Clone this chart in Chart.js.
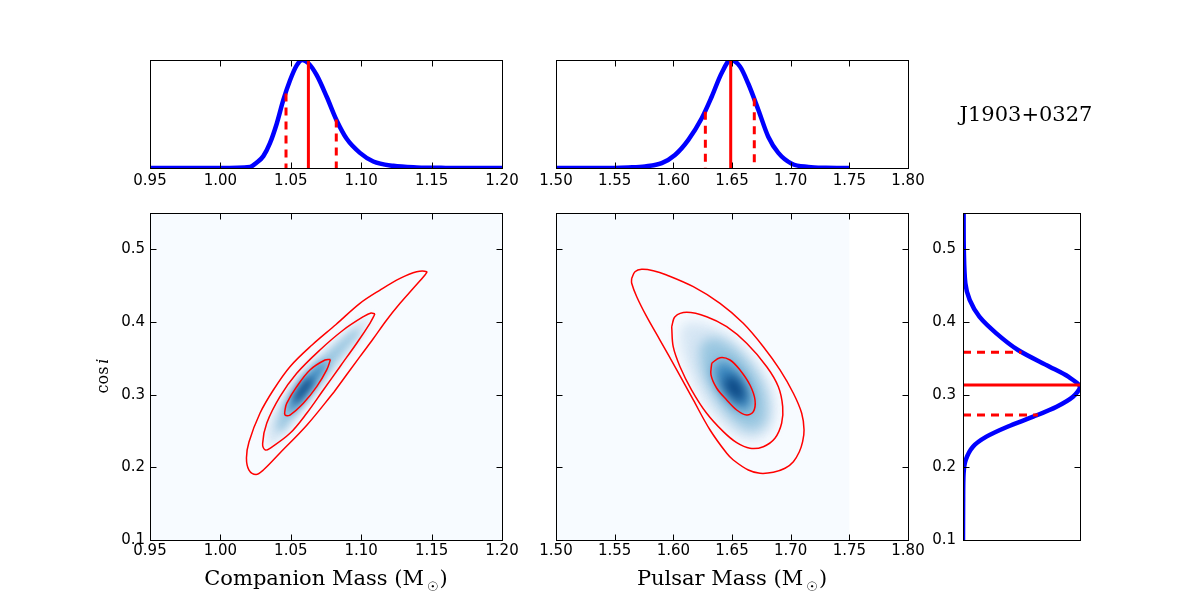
<!DOCTYPE html>
<html><head><meta charset="utf-8">
<script src="https://cdn.jsdelivr.net/npm/chart.js@4.4.1/dist/chart.umd.min.js"></script>
<style>
html,body{margin:0;padding:0;background:#fff;}
#wrap{position:relative;width:1200px;height:600px;background:#fff;}
#wrap canvas{position:absolute;left:0;top:0;}
</style></head><body><div id="wrap">
<canvas id="shadeL" width="1200" height="600"></canvas>
<canvas id="shadeM" width="1200" height="600"></canvas>
<canvas id="topL" width="1200" height="600"></canvas>
<canvas id="topM" width="1200" height="600"></canvas>
<canvas id="botL" width="1200" height="600"></canvas>
<canvas id="botM" width="1200" height="600"></canvas>
<canvas id="sideR" width="1200" height="600"></canvas>
</div>
<script>
// ---------- tick labels ----------
const compMassTicks = [0.95, 1.00, 1.05, 1.10, 1.15, 1.20];
const pulsarMassTicks = [1.50, 1.55, 1.60, 1.65, 1.70, 1.75, 1.80];
const cosiTicks = [0.1, 0.2, 0.3, 0.4, 0.5];

// ---------- companion-mass marginal ----------
const compMassX   = [0.95, 1.00, 1.0210, 1.0258, 1.0305, 1.0352, 1.0400, 1.0447, 1.0494, 1.0542, 1.0582, 1.0625, 1.0684, 1.0755, 1.0826, 1.0897, 1.0991, 1.1086, 1.1228, 1.1394, 1.1600, 1.2000];
const compMassPdf = [0, 0, 0.01, 0.05, 0.11, 0.23, 0.41, 0.63, 0.81, 0.95, 1.00, 0.97, 0.86, 0.66, 0.44, 0.27, 0.14, 0.06, 0.02, 0.005, 0.001, 0];
const compMassMarks   = [1.0466, 1.0625, 1.0823];   // lower, median, upper
const compMassMarkTop = [0.69, 1.00, 0.45];

// ---------- pulsar-mass marginal ----------
const pulsarMassX   = [1.50, 1.55, 1.5617, 1.5759, 1.5901, 1.6014, 1.6128, 1.6242, 1.6327, 1.6412, 1.6489, 1.6568, 1.6639, 1.6724, 1.6809, 1.6895, 1.7009, 1.7150, 1.7300, 1.7500];
const pulsarMassPdf = [0, 0.001, 0.005, 0.015, 0.045, 0.12, 0.26, 0.46, 0.66, 0.88, 1.00, 0.94, 0.78, 0.54, 0.29, 0.14, 0.04, 0.01, 0.002, 0];
const pulsarMassMarks   = [1.6273, 1.6489, 1.6690];
const pulsarMassMarkTop = [0.52, 1.00, 0.645];

// ---------- cos i marginal ----------
const cosiY   = [0.10, 0.15, 0.1918, 0.2101, 0.2284, 0.2422, 0.2559, 0.2697, 0.2835, 0.2972, 0.3110, 0.3247, 0.3385, 0.3615, 0.3844, 0.4073, 0.4303, 0.4533, 0.4991, 0.55];
const cosiPdf = [0, 0.001, 0.005, 0.023, 0.085, 0.20, 0.38, 0.60, 0.80, 0.94, 1.00, 0.90, 0.74, 0.47, 0.285, 0.14, 0.057, 0.02, 0.007, 0.005];
const cosiMarks    = [0.2720, 0.3133, 0.3583];
const cosiMarkLen  = [0.64, 1.00, 0.50];

// ---------- companion mass vs cos i contours ----------
const compOuter = [[1.0807,0.3037],[1.0615,0.2583],[1.0423,0.2197],[1.0305,0.1963],[1.0253,0.1902],[1.0203,0.1963],[1.0185,0.2129],[1.0203,0.2349],[1.0281,0.2744],[1.0376,0.3064],[1.0494,0.3385],[1.0651,0.3684],[1.0821,0.3966],[1.0991,0.4257],[1.1134,0.4440],[1.1276,0.4601],[1.1394,0.4692],[1.1465,0.4692],[1.1453,0.4647],[1.1370,0.4464],[1.1276,0.4257],[1.1181,0.4028],[1.1084,0.3766],[1.0991,0.3523],[1.0807,0.3037]];
const compMid = [[1.1098,0.4110],[1.1062,0.3982],[1.0968,0.3707],[1.0849,0.3385],[1.0731,0.3064],[1.0613,0.2744],[1.0494,0.2468],[1.0352,0.2262],[1.0318,0.2240],[1.0300,0.2330],[1.0329,0.2606],[1.0423,0.2972],[1.0542,0.3294],[1.0707,0.3615],[1.0873,0.3890],[1.1015,0.4073],[1.1070,0.4124],[1.1098,0.4110]];
const compInner = [[1.0782,0.3484],[1.0755,0.3340],[1.0684,0.3110],[1.0589,0.2881],[1.0494,0.2720],[1.0459,0.2720],[1.0459,0.2789],[1.0471,0.2881],[1.0542,0.3110],[1.0636,0.3340],[1.0743,0.3477],[1.0782,0.3484]];
// density shading levels (light -> dark)
const compShade1 = [[1.0338,0.2321],[1.0338,0.2583],[1.0445,0.2954],[1.0565,0.3298],[1.0729,0.3573],[1.0885,0.3849],[1.1027,0.4055],[1.1062,0.4028],[1.0949,0.3684],[1.0828,0.3367],[1.0693,0.3037],[1.0580,0.2762],[1.0466,0.2486],[1.0366,0.2294],[1.0338,0.2321]];
const compShade2 = [[1.0395,0.2541],[1.0452,0.2858],[1.0551,0.3133],[1.0693,0.3450],[1.0864,0.3752],[1.0977,0.3917],[1.0991,0.3862],[1.0885,0.3615],[1.0743,0.3271],[1.0622,0.2954],[1.0509,0.2679],[1.0423,0.2486],[1.0395,0.2541]];
const compShade3 = [[1.0473,0.2789],[1.0530,0.3023],[1.0622,0.3271],[1.0729,0.3450],[1.0757,0.3422],[1.0679,0.3174],[1.0580,0.2927],[1.0494,0.2748],[1.0473,0.2789]];
const compShade4 = [[1.0516,0.2927],[1.0565,0.3092],[1.0636,0.3229],[1.0658,0.3188],[1.0601,0.3023],[1.0537,0.2885],[1.0516,0.2927]];

// ---------- pulsar mass vs cos i contours ----------
const pulsOuter = [[1.5645,0.4601],[1.5673,0.4692],[1.5730,0.4725],[1.5829,0.4706],[1.5943,0.4647],[1.6170,0.4486],[1.6398,0.4257],[1.6596,0.3982],[1.6767,0.3660],[1.6909,0.3340],[1.7023,0.3019],[1.7094,0.2744],[1.7114,0.2514],[1.7102,0.2353],[1.7074,0.2215],[1.7023,0.2078],[1.6952,0.1987],[1.6852,0.1932],[1.6739,0.1918],[1.6639,0.1963],[1.6511,0.2101],[1.6455,0.2193],[1.6313,0.2514],[1.6170,0.2927],[1.6029,0.3340],[1.5886,0.3752],[1.5773,0.4073],[1.5688,0.4348],[1.5645,0.4533],[1.5645,0.4601]];
const pulsMid = [[1.5986,0.3935],[1.6014,0.4073],[1.6114,0.4133],[1.6284,0.4073],[1.6455,0.3935],[1.6625,0.3707],[1.6796,0.3385],[1.6895,0.3110],[1.6932,0.2835],[1.6923,0.2606],[1.6866,0.2400],[1.6767,0.2284],[1.6653,0.2262],[1.6540,0.2339],[1.6426,0.2491],[1.6284,0.2744],[1.6156,0.3064],[1.6057,0.3385],[1.5999,0.3660],[1.5986,0.3935]];
const pulsInner = [[1.6327,0.3432],[1.6398,0.3509],[1.6483,0.3477],[1.6568,0.3340],[1.6653,0.3133],[1.6696,0.2927],[1.6682,0.2766],[1.6625,0.2720],[1.6540,0.2789],[1.6455,0.2927],[1.6370,0.3088],[1.6321,0.3271],[1.6327,0.3432]];
const pulsShade1 = [[1.6057,0.3849],[1.6082,0.3959],[1.6159,0.4000],[1.6313,0.3945],[1.6457,0.3821],[1.6602,0.3615],[1.6747,0.3340],[1.6832,0.3092],[1.6866,0.2858],[1.6858,0.2651],[1.6807,0.2486],[1.6722,0.2390],[1.6628,0.2376],[1.6534,0.2445],[1.6440,0.2569],[1.6321,0.2789],[1.6210,0.3064],[1.6125,0.3367],[1.6074,0.3615],[1.6057,0.3849]];
const pulsShade2 = [[1.6227,0.3684],[1.6330,0.3780],[1.6483,0.3684],[1.6636,0.3450],[1.6756,0.3133],[1.6798,0.2817],[1.6764,0.2583],[1.6653,0.2514],[1.6526,0.2624],[1.6398,0.2858],[1.6296,0.3133],[1.6236,0.3408],[1.6227,0.3684]];
const pulsShade3 = [[1.6355,0.3408],[1.6406,0.3463],[1.6483,0.3422],[1.6560,0.3298],[1.6628,0.3106],[1.6662,0.2927],[1.6645,0.2803],[1.6602,0.2775],[1.6534,0.2844],[1.6457,0.2968],[1.6389,0.3119],[1.6347,0.3271],[1.6355,0.3408]];
const pulsShade4 = [[1.6440,0.3229],[1.6509,0.3257],[1.6585,0.3119],[1.6611,0.2954],[1.6560,0.2899],[1.6483,0.3009],[1.6432,0.3119],[1.6440,0.3229]];

// heat-map extents along x
const compHeatExtent = [0.95, 1.20];
const pulsHeatExtent = [1.50, 1.75];

const shadeColors = ['#d6e6f4', '#98c6e0', '#3b89c1', '#08427f'];

// ---------- helpers ----------
const zip = (xs, ys) => xs.map((x, i) => ({x, y: ys[i]}));
const pairs = a => a.map(([x, y]) => ({x, y}));
const SANS = '"DejaVu Sans"';
const SERIF = '"DejaVu Serif"';

function lin(min, max, ticks, o) {
  return {
    type: 'linear', min, max,
    display: o.display !== false,
    grid: {display: false, drawTicks: false},
    border: {display: false},
    ticks: {display: o.labels !== false, color: '#000', font: {family: SANS, size: 15},
      padding: o.padding == null ? 3 : o.padding, autoSkip: false, maxRotation: 0, minRotation: 0,
      callback: v => Number(v).toFixed(o.dec || 1)},
    afterBuildTicks: s => { s.ticks = ticks.map(v => ({value: v})); },
    afterFit: s => { if (o.size != null) { if (s.isHorizontal()) s.height = o.size; else s.width = o.size; } }
  };
}
function lineDs(data, color, width, extra) {
  return Object.assign({data, showLine: true, borderColor: color, borderWidth: width,
    pointRadius: 0, pointHoverRadius: 0, fill: false, tension: 0}, extra || {});
}
function frame(cfg) {
  return {
    id: 'frame',
    afterDraw(chart) {
      const {ctx, chartArea: a, scales} = chart;
      const L = Math.round(a.left) + 0.5, R = Math.round(a.right) + 0.5, T = Math.round(a.top) + 0.5, B = Math.round(a.bottom) + 0.5;
      ctx.save();
      ctx.strokeStyle = '#000'; ctx.lineWidth = 1;
      ctx.beginPath();
      if (cfg.tx) for (const t of scales.x.ticks) {
        const p = Math.round(scales.x.getPixelForValue(t.value)) + 0.5;
        ctx.moveTo(p, B); ctx.lineTo(p, B - 6); ctx.moveTo(p, T); ctx.lineTo(p, T + 6);
      }
      if (cfg.ty) for (const t of scales.y.ticks) {
        const p = Math.round(scales.y.getPixelForValue(t.value)) + 0.5;
        ctx.moveTo(L, p); ctx.lineTo(L + 6, p); ctx.moveTo(R, p); ctx.lineTo(R - 6, p);
      }
      ctx.stroke();
      ctx.strokeRect(L, T, R - L, B - T);
      ctx.restore();
      if (cfg.draw) cfg.draw(ctx);
    }
  };
}
function shadePlugin(extent, blur) {
  return {
    id: 'shade',
    beforeDatasetsDraw(chart) {
      const {ctx, chartArea: a, scales} = chart;
      const x0 = scales.x.getPixelForValue(extent[0]), x1 = scales.x.getPixelForValue(extent[1]);
      ctx.save();
      ctx.fillStyle = '#f7fbff';
      ctx.fillRect(x0, a.top, x1 - x0, a.bottom - a.top);
      ctx.restore();
      ctx.save();
      ctx.filter = 'blur(' + blur + 'px)';
    },
    afterDatasetsDraw(chart) { chart.ctx.restore(); }
  };
}
function massLabel(ctx, text, cx, base) {
  ctx.save();
  ctx.fillStyle = '#000'; ctx.textAlign = 'left'; ctx.textBaseline = 'alphabetic';
  const big = '21px ' + SERIF, small = '13px ' + SANS;
  ctx.font = big; const w1 = ctx.measureText(text).width; const wp = ctx.measureText(')').width;
  ctx.font = small; const ws = ctx.measureText('\u2609').width;
  const gap = 3, total = w1 + gap + ws + 1 + wp;
  let x = cx - total / 2;
  ctx.font = big; ctx.fillText(text, x, base); x += w1 + gap;
  ctx.font = small; ctx.fillText('\u2609', x, base + 6); x += ws + 1;
  ctx.font = big; ctx.fillText(')', x, base);
  ctx.restore();
}
const base = {responsive: false, animation: false, devicePixelRatio: 1, events: [],
  plugins: {legend: {display: false}, tooltip: {enabled: false}}};
function opts(padding, scales) { return Object.assign({}, base, {layout: {padding}, scales}); }
const RED = '#ff0000', BLUE = '#0000ff';

function shadeDatasets(levels) {
  return levels.map((lv, i) => ({data: pairs(lv), showLine: true, fill: 'shape', backgroundColor: shadeColors[i],
    borderColor: 'rgba(0,0,0,0)', borderWidth: 0, pointRadius: 0, tension: 0.4, order: 10 - i}));
}

// ---------- shading charts (under) ----------
new Chart(document.getElementById('shadeL'), {
  type: 'scatter',
  data: {datasets: shadeDatasets([compShade1, compShade2, compShade3, compShade4])},
  options: opts({left: 150, top: 213, right: 698, bottom: 60}, {
    x: lin(0.95, 1.20, [], {display: false}), y: lin(0.1, 0.55, [], {display: false})}),
  plugins: [shadePlugin(compHeatExtent, 4)]
});
new Chart(document.getElementById('shadeM'), {
  type: 'scatter',
  data: {datasets: shadeDatasets([pulsShade1, pulsShade2, pulsShade3, pulsShade4])},
  options: opts({left: 556, top: 213, right: 292, bottom: 60}, {
    x: lin(1.50, 1.80, [], {display: false}), y: lin(0.1, 0.55, [], {display: false})}),
  plugins: [shadePlugin(pulsHeatExtent, 6)]
});

// ---------- top marginals ----------
function markDs(xs, tops, horizontal) {
  return xs.map((v, i) => lineDs(
    horizontal ? [{x: 0, y: v}, {x: tops[i], y: v}] : [{x: v, y: tops[i]}, {x: v, y: 0}],
    RED, 3, i === 1 ? {} : {borderDash: [8, 6], borderCapStyle: 'butt'}));
}
new Chart(document.getElementById('topL'), {
  type: 'scatter',
  data: {datasets: [...markDs(compMassMarks, compMassMarkTop, false),
    lineDs(zip(compMassX, compMassPdf), BLUE, 4.5, {cubicInterpolationMode: 'monotone'})]},
  options: opts({left: 150, top: 60, right: 698, bottom: 402}, {
    x: lin(0.95, 1.20, compMassTicks, {dec: 2, size: 30, padding: 4}),
    y: lin(0, 1, [], {display: false})}),
  plugins: [frame({tx: true})]
});
new Chart(document.getElementById('topM'), {
  type: 'scatter',
  data: {datasets: [...markDs(pulsarMassMarks, pulsarMassMarkTop, false),
    lineDs(zip(pulsarMassX, pulsarMassPdf), BLUE, 4.5, {cubicInterpolationMode: 'monotone'})]},
  options: opts({left: 556, top: 60, right: 292, bottom: 402}, {
    x: lin(1.50, 1.80, pulsarMassTicks, {dec: 2, size: 30, padding: 4}),
    y: lin(0, 1, [], {display: false})}),
  plugins: [frame({tx: true})]
});

// ---------- joint panels ----------
const contour = a => lineDs(pairs(a), RED, 1.5, {tension: 0.35});
new Chart(document.getElementById('botL'), {
  type: 'scatter',
  data: {datasets: [contour(compInner), contour(compMid), contour(compOuter)]},
  options: opts({left: 110, top: 213, right: 698, bottom: 30}, {
    x: lin(0.95, 1.20, compMassTicks, {dec: 2, size: 30, padding: 2}),
    y: lin(0.1, 0.55, cosiTicks, {dec: 1, size: 40, padding: 5})}),
  plugins: [frame({tx: true, ty: true, draw(ctx) {
    massLabel(ctx, 'Companion Mass (M', 326, 585);
    ctx.save();
    ctx.fillStyle = '#000'; ctx.textBaseline = 'alphabetic'; ctx.textAlign = 'left';
    ctx.translate(108, 376); ctx.rotate(-Math.PI / 2);
    ctx.font = '16px ' + SERIF; const wc = ctx.measureText('cos').width;
    ctx.font = 'italic 16px ' + SERIF; const wi = ctx.measureText('i').width;
    let x = -(wc + 3 + wi) / 2;
    ctx.font = '16px ' + SERIF; ctx.fillText('cos', x, 0);
    ctx.font = 'italic 16px ' + SERIF; ctx.fillText('i', x + wc + 3, 0);
    ctx.restore();
  }})]
});
new Chart(document.getElementById('botM'), {
  type: 'scatter',
  data: {datasets: [contour(pulsInner), contour(pulsMid), contour(pulsOuter)]},
  options: opts({left: 556, top: 213, right: 292, bottom: 30}, {
    x: lin(1.50, 1.80, pulsarMassTicks, {dec: 2, size: 30, padding: 2}),
    y: lin(0.1, 0.55, cosiTicks, {labels: false, size: 0})}),
  plugins: [frame({tx: true, ty: true, draw(ctx) { massLabel(ctx, 'Pulsar Mass (M', 732, 585); }})]
});

// ---------- side marginal ----------
new Chart(document.getElementById('sideR'), {
  type: 'scatter',
  data: {datasets: [...markDs(cosiMarks, cosiMarkLen, true),
    lineDs(zip(cosiPdf, cosiY), BLUE, 4.5, {tension: 0.3})]},
  options: opts({left: 923, top: 213, right: 120, bottom: 60}, {
    x: lin(0, 1, [], {display: false}),
    y: lin(0.1, 0.55, cosiTicks, {dec: 1, size: 40, padding: 7})}),
  plugins: [frame({ty: true, draw(ctx) {
    ctx.save(); ctx.fillStyle = '#000'; ctx.font = '21px ' + SERIF; ctx.textAlign = 'center'; ctx.textBaseline = 'alphabetic';
    ctx.fillText('J1903+0327', 1026, 121); ctx.restore();
  }})]
});
</script></body></html>
